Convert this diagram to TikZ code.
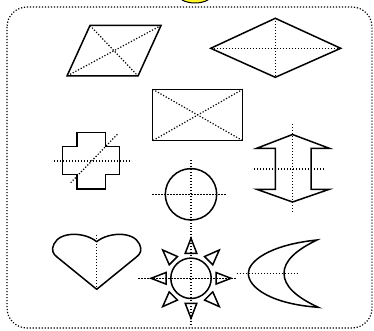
\documentclass[tikz,border=0pt]{standalone}
\usetikzlibrary{calc}
\begin{document}
\begin{tikzpicture}[x=1pt,y=-1pt,
  outl/.style={line width=1.5pt,line join=miter},
  guide/.style={line width=1.2pt,dash pattern=on 1.2pt off 1.8pt},
  frame/.style={line width=1.2pt,dash pattern=on 1.2pt off 1.8pt,rounded corners=20pt}]
\useasboundingbox (0,0) rectangle (374,331);
\clip (0,0) rectangle (374,331);
% yellow blob at top
\draw[line width=1pt,fill=yellow!85!white] (195,-7) ellipse [x radius=18,y radius=10];
% frame
\draw[frame] (7,7) rectangle (372,328);
% parallelogram
\coordinate (pa) at (90,25.5);
\coordinate (pb) at (161,25.5);
\coordinate (pc) at (138,76);
\coordinate (pd) at (67,76);
\draw[guide] (pa) -- (pc) (pb) -- (pd);
\draw[outl] (pa) -- (pb) -- (pc) -- (pd) -- cycle;
% rhombus
\coordinate (ra) at (210.7,48.3);
\coordinate (rb) at (275.3,18.3);
\coordinate (rc) at (340.7,48.3);
\coordinate (rd) at (275.3,77.3);
\draw[guide] (ra) -- (rc) (rb) -- (rd);
\draw[outl] (ra) -- (rb) -- (rc) -- (rd) -- cycle;
% rectangle
\coordinate (qa) at (152.7,89.3);
\coordinate (qb) at (242.7,89.3);
\coordinate (qc) at (242.7,140.7);
\coordinate (qd) at (152.7,140.7);
\draw[guide] (qa) -- (qc) (qb) -- (qd);
\draw[outl] (qa) -- (qb) -- (qc) -- (qd) -- cycle;
% cross
\coordinate (xc) at (91,161);
\draw[guide] (54,161) -- (131.7,161);
\draw[guide] (70.7,182.7) -- (118.3,133.3);
\draw[outl] (77,132.7) -- (105.3,132.7) -- (105.3,146.5) -- (119.3,146.5) -- (119.3,174.5)
  -- (105.3,174.5) -- (105.3,189) -- (77,189) -- (77,174.5) -- (62.7,174.5)
  -- (62.7,146.5) -- (77,146.5) -- cycle;
% double arrow
\draw[guide] (292.5,124) -- (292.5,213.3);
\draw[guide] (254,169) -- (324,169);
\draw[outl] (292.5,134.5) -- (329.3,148.3) -- (311,148.3) -- (311,189.3) -- (329.3,189.3)
  -- (292.5,202) -- (256.7,189.3) -- (275.3,189.3) -- (275.3,148.3) -- (256.7,148.3) -- cycle;
% circle
\coordinate (ci) at (191,194.3);
\draw[guide] (152.3,194.3) -- (226.7,194.3);
\draw[guide] (191,160) -- (191,228);
\draw[outl] (ci) circle [radius=25.7];
% heart
\draw[guide] (96.7,235) -- (96.7,289);
\draw[outl,line join=round] (96.7,241.7) .. controls (85,232) and (60,231) .. (54,244)
  .. controls (51,250) and (53,254) .. (57,257) -- (96.7,289.3) -- (136.4,257)
  .. controls (140.4,254) and (142.4,250) .. (139.4,244)
  .. controls (133.4,231) and (108.4,232) .. cycle;
% sun
\coordinate (sun) at (191,278.3);
\draw[guide] (191,228) -- (191,327);
\draw[guide] (138.3,278.3) -- (236,278.3);
\draw[outl] (sun) circle [radius=20.2];
\foreach \a in {0,45,...,315}{
  \draw[outl] ($(sun)+(\a:40)$) -- ($(sun)+(\a:25)+(\a+90:5.8)$)
    -- ($(sun)+(\a:25)+(\a-90:5.8)$) -- cycle;
}
% moon
\draw[guide] (236.7,273.3) -- (298.3,273.3);
\draw[outl] (317,240) .. controls (268,245) and (248.3,262) .. (248.3,273.3)
  .. controls (248.3,288) and (272,304) .. (318.3,307.3)
  .. controls (296,297) and (284,286) .. (284,273.3)
  .. controls (284,261) and (296,250) .. cycle;
\end{tikzpicture}
\end{document}
